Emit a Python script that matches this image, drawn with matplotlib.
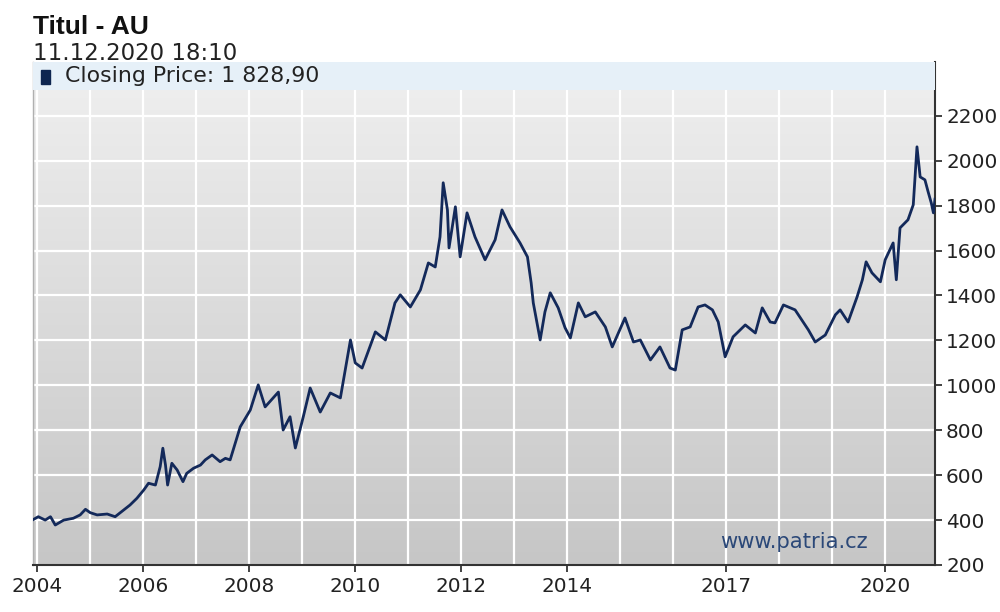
import numpy as np
import matplotlib
matplotlib.use("Agg")
import matplotlib.pyplot as plt
from matplotlib.patches import Rectangle

# gold closing price (USD), time as decimal year
years = [2003.93, 2004.02, 2004.15, 2004.25, 2004.34, 2004.50, 2004.68, 2004.81, 2004.91,
         2005.00, 2005.13, 2005.32, 2005.47, 2005.63, 2005.75, 2005.88, 2006.01, 2006.10,
         2006.23, 2006.32, 2006.37, 2006.42, 2006.46, 2006.54, 2006.64, 2006.75, 2006.82,
         2006.95, 2007.08, 2007.17, 2007.30, 2007.45, 2007.55, 2007.64, 2007.83, 2008.02,
         2008.17, 2008.30, 2008.55, 2008.64, 2008.77, 2008.87, 2009.02, 2009.15, 2009.34,
         2009.53, 2009.72, 2009.91, 2010.00, 2010.13, 2010.38, 2010.57, 2010.75, 2010.85,
         2011.04, 2011.23, 2011.38, 2011.51, 2011.60, 2011.66, 2011.74, 2011.77, 2011.89,
         2011.98, 2012.11, 2012.26, 2012.45, 2012.64, 2012.77, 2012.92, 2013.11, 2013.25,
         2013.32, 2013.36, 2013.49, 2013.58, 2013.68, 2013.83, 2013.96, 2014.06, 2014.21,
         2014.34, 2014.53, 2014.72, 2014.85, 2015.09, 2015.25, 2015.38, 2015.57, 2015.75,
         2015.94, 2016.04, 2016.17, 2016.32, 2016.47, 2016.60, 2016.74, 2016.85, 2016.98,
         2017.13, 2017.36, 2017.55, 2017.68, 2017.83, 2017.92, 2018.08, 2018.30, 2018.55,
         2018.68, 2018.87, 2019.06, 2019.15, 2019.30, 2019.47, 2019.57, 2019.64, 2019.75,
         2019.91, 2020.00, 2020.15, 2020.21, 2020.28, 2020.43, 2020.53, 2020.60, 2020.66,
         2020.75, 2020.81, 2020.87, 2020.91, 2020.94]
prices = [403, 415, 400, 415, 378, 400, 408, 423, 448,
          433, 423, 427, 415, 445, 467, 497, 534, 564,
          556, 638, 720, 645, 556, 653, 623, 571, 608,
          631, 645, 668, 690, 660, 675, 668, 815, 890,
          1002, 904, 970, 801, 860, 721, 860, 988, 881,
          966, 944, 1202, 1100, 1077, 1238, 1202, 1367, 1403,
          1349, 1425, 1545, 1527, 1661, 1902, 1781, 1612, 1795,
          1572, 1768, 1661, 1559, 1648, 1781, 1706, 1634, 1572,
          1456, 1367, 1202, 1327, 1412, 1345, 1256, 1211, 1367,
          1305, 1327, 1260, 1171, 1300, 1193, 1202, 1113, 1171,
          1077, 1068, 1247, 1260, 1349, 1358, 1336, 1282, 1127,
          1216, 1269, 1233, 1345, 1282, 1278, 1358, 1336, 1247,
          1193, 1224, 1314, 1336, 1282, 1394, 1470, 1550, 1501,
          1461, 1559, 1634, 1470, 1701, 1737, 1804, 2062, 1928,
          1915, 1862, 1812, 1768, 1829]

year_ticks = [2004, 2006, 2008, 2010, 2012, 2014, 2017, 2020]
price_ticks = [200, 400, 600, 800, 1000, 1200, 1400, 1600, 1800, 2000, 2200]

line_color = "#13295a"

fig = plt.figure(figsize=(10, 6.12), dpi=100)
ax = fig.add_axes([0.033, 0.0768, 0.902, 0.822])
ax.set_xlim(2003.92, 2020.94)
ax.set_ylim(200, 2440)

# grey vertical gradient background
grad = np.linspace(0, 1, 256).reshape(-1, 1)
ax.imshow(grad, extent=[0, 1, 0, 1], transform=ax.transAxes, aspect="auto",
          cmap=matplotlib.colors.LinearSegmentedColormap.from_list("bg", ["#c6c6c6", "#f0f0f0"]),
          origin="lower", zorder=0)

# grid
for yr in range(2004, 2021):
    ax.axvline(yr, color="white", lw=1.6, zorder=1)
for p in price_ticks[1:] + [2400]:
    ax.axhline(p, color="white", lw=1.6, zorder=1)

ax.plot(years, prices, color=line_color, lw=2.0, zorder=3)

# legend strip on top
ax.add_patch(Rectangle((0, 1 - 0.0557), 1, 0.0557, transform=ax.transAxes,
                       facecolor="#e6f0f8", edgecolor="none", zorder=4))
ax.add_patch(Rectangle((0.009, 0.956), 0.0095, 0.028, transform=ax.transAxes,
                       facecolor="#0d2550", edgecolor="#0d2550", zorder=5))
ax.text(0.0355, 0.972, "Closing Price: 1 828,90", transform=ax.transAxes,
        fontsize=15.8, color="#222222", va="center", ha="left", zorder=5)

ax.text(0.844, 0.045, "www.patria.cz", transform=ax.transAxes, fontsize=15.2,
        color="#2b4878", ha="center", va="center", zorder=5)

# axes styling
ax.yaxis.tick_right()
ax.set_yticks(price_ticks)
ax.set_yticklabels([str(p) for p in price_ticks])
ax.set_xticks(year_ticks)
ax.set_xticklabels([str(y) for y in year_ticks])
ax.tick_params(axis="both", labelsize=14.4, colors="#222222", length=5, width=1.2,
               direction="out", pad=3)
ax.tick_params(axis="x", pad=4)
ax.spines["top"].set_visible(False)
ax.spines["left"].set_color("#b0b0b0")
ax.spines["left"].set_linewidth(1)
ax.spines["right"].set_color("#333333")
ax.spines["right"].set_linewidth(1.5)
ax.spines["bottom"].set_color("#333333")
ax.spines["bottom"].set_linewidth(1.5)

fig.text(0.033, 0.945, "Titul - AU", fontsize=19, fontweight="bold",
         family="Liberation Sans", color="#111111", ha="left", va="baseline")
fig.text(0.033, 0.902, "11.12.2020 18:10", fontsize=16.5, color="#222222",
         ha="left", va="baseline")

fig.savefig("out.png", dpi=100)
